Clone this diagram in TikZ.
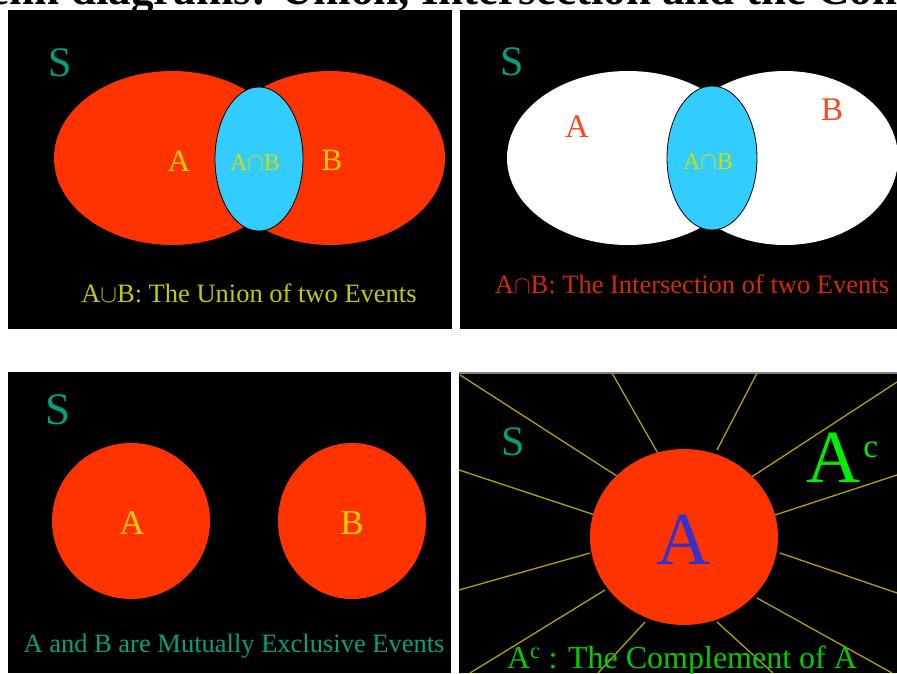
\documentclass[tikz,border=0pt]{standalone}
\usepackage{fontspec}
\setmainfont{Liberation Serif}
\definecolor{evred}{HTML}{FF3300}
\definecolor{evblue}{HTML}{33CCFF}
\definecolor{steal}{HTML}{00A080}
\definecolor{labyel}{HTML}{FFCC00}
\definecolor{abyel}{HTML}{D0E000}
\definecolor{capyel}{HTML}{C8C800}
\definecolor{labred}{HTML}{FF4422}
\definecolor{capred}{HTML}{D42A00}
\definecolor{bigblue}{HTML}{3333CC}
\definecolor{compgreen}{HTML}{00EE00}
\definecolor{capgreen}{HTML}{00CC00}
\definecolor{raycol}{HTML}{B4A000}

\begin{document}
\begin{tikzpicture}[x=1pt,y=-1pt,line width=.35pt,
  panel/.style={fill=black},
  inter/.style={fill=evblue,draw=black,line width=.8pt},
  sname/.style={text=steal,font=\fontsize{42}{46}\selectfont},
  lab/.style={font=\fontsize{31}{34}\selectfont},
  ablab/.style={text=abyel,font=\fontsize{24}{27}\selectfont},
  capt/.style={anchor=base,font=\fontsize{26.5}{30}\selectfont},
  ray/.style={raycol,line width=1.3pt}]
\useasboundingbox (0,0) rectangle (897,673);
\clip (0,0) rectangle (897,673);
\node[anchor=base west,font=\bfseries\fontsize{45}{50}\selectfont] (ttl) at (-42,4.5) {Venn diagrams: Union, Intersection and the Complement};

% union
\fill[panel] (8,10) rectangle (452,329);
\fill[evred] (172,158) ellipse [x radius=118pt,y radius=87pt];
\fill[evred] (330,158) ellipse [x radius=115pt,y radius=87pt];
\filldraw[inter] (259,159) ellipse [x radius=44pt,y radius=72pt];
\node[sname] (s1) at (60,63) {S};
\node[lab,text=labyel] (a1) at (179,161) {A};
\node[lab,text=labyel] (b1) at (332,160) {B};
\node[ablab] (ab1) at (255,163) {A$\cap$B};
\node[capt,text=capyel] (c1) at (249,302) {A$\cup$B: The Union of two Events};

% intersection
\fill[panel] (460,10) rectangle (897,329);
\fill[white] (628,158) ellipse [x radius=121pt,y radius=87pt];
\fill[white] (785,158) ellipse [x radius=113pt,y radius=87pt];
\filldraw[inter] (712,158) ellipse [x radius=45pt,y radius=72pt];
\node[sname] (s2) at (512,62) {S};
\node[lab,text=labred,font=\fontsize{33}{36}\selectfont] (a2) at (577,127) {A};
\node[lab,text=labred,font=\fontsize{33}{36}\selectfont] (b2) at (832,110) {B};
\node[ablab] (ab2) at (708,162) {A$\cap$B};
\node[capt,text=capred] (c2) at (692,293) {A$\cap$B: The Intersection of two Events};

% mutually exclusive
\fill[panel] (8,372) rectangle (451,673);
\fill[evred] (131,521) ellipse [x radius=79pt,y radius=78pt];
\fill[evred] (352,521) ellipse [x radius=74pt,y radius=78pt];
\node[sname,font=\fontsize{45}{48}\selectfont] (s3) at (58,410) {S};
\node[lab,text=labyel,font=\fontsize{35}{38}\selectfont] (a3) at (132,523) {A};
\node[lab,text=labyel,font=\fontsize{35}{38}\selectfont] (b3) at (352,523) {B};
\node[capt,text=steal] (c3) at (234,652) {A and B are Mutually Exclusive Events};

% complement
\fill[panel] (459,373) rectangle (897,673);
\draw[gray,line width=1.5pt] (459,373)--(897,373);
\foreach \xa/\ya/\xb/\yb in {620/478/460/375,660/457/612/373,717/450/757/373,750/478/897/382,
  775/515/897/475,780/553/897/593,757/598/892/673,717/622/773/673,
  645/622/598/673,605/590/470/673,590/553/459/590,595/515/459/470}
  \draw[ray] (\xa,\ya)--(\xb,\yb);
\fill[evred] (684,537) ellipse [x radius=94pt,y radius=88pt];
\node[sname] (s4) at (513,442) {S};
\node[text=bigblue,font=\fontsize{75}{80}\selectfont] (a4) at (684,540) {A};
\node[text=compgreen,anchor=base west,inner sep=0pt,font=\fontsize{75}{80}\selectfont] (ac4) at (806,482) {A\kern3pt\raisebox{25pt}{\fontsize{33}{36}\selectfont c}};
\node[capt,text=capgreen,font=\fontsize{32}{35}\selectfont] (c4) at (682,668) {A\textsuperscript{c} : The Complement of A};
\end{tikzpicture}
\end{document}
